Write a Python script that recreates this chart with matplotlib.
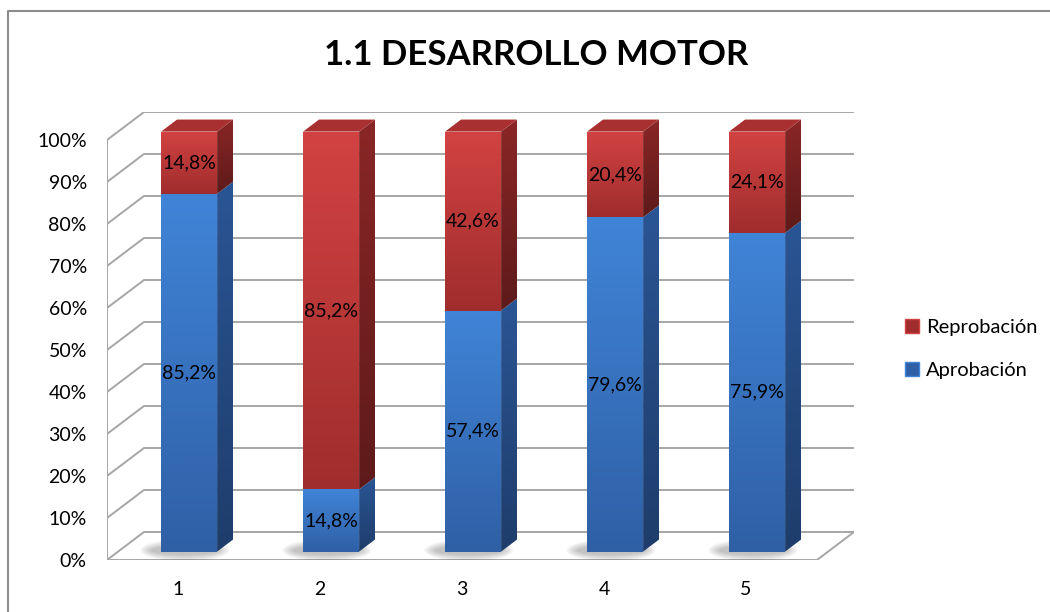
import numpy as np
import matplotlib.pyplot as plt
from matplotlib.patches import Polygon, Ellipse, Patch
from matplotlib.lines import Line2D
from matplotlib.colors import LinearSegmentedColormap

categorias = [1, 2, 3, 4, 5]
aprobacion = [85.2, 14.8, 57.4, 79.6, 75.9]
reprobacion = [14.8, 85.2, 42.6, 20.4, 24.1]
ticks_y = list(range(0, 101, 10))
titulo = "1.1 DESARROLLO MOTOR"

plt.rcParams['font.family'] = ['Lato', 'DejaVu Sans']

W, H = 1050, 612
fig = plt.figure(figsize=(W / 100, H / 100), dpi=100)
fig.patch.set_facecolor('white')

# borde exterior del grafico (solo izquierda y arriba quedan dentro)
fig.add_artist(Line2D([8 / W, 8 / W, 1.01], [-0.01, 1 - 11 / H, 1 - 11 / H],
                      transform=fig.transFigure, color='#8C8C8C', lw=1.5))

fig.text(536 / W, 1 - 65 / H, titulo, ha='center', va='baseline',
         fontsize=25, fontweight='bold')

# ejes: plano frontal en unidades de categoria / porcentaje
px_x, px_y = 142.0, 4.2
ax = fig.add_axes([107 / W, 52 / H, 747 / W, 448 / H])
xlim = (0.5, 0.5 + 747 / px_x)
ylim = (0, 448 / px_y)
DX, DY = 37 / px_x, 28 / px_y     # profundidad del cubo
f0, f1 = 0.30, 0.73               # profundidad de las barras
ancho = 28 / px_x

gris = '#A6A6A6'
for v in ticks_y:
    ax.plot([0.5, 0.5 + DX, 5.5 + DX], [v, v + DY, v + DY], color=gris, lw=1.4, zorder=1)
ax.plot([0.5, 0.5], [0, 100], color=gris, lw=1.4, zorder=1)
ax.plot([0.5, 5.5, 5.5 + DX], [0, 0, DY], color=gris, lw=1.4, zorder=1)


def relleno(verts, c_top, c_bot, z):
    poly = Polygon(verts, closed=True, facecolor='none', edgecolor='none', zorder=z)
    ax.add_patch(poly)
    xs = [p[0] for p in verts]
    ys = [p[1] for p in verts]
    cmap = LinearSegmentedColormap.from_list('g', [c_bot, c_top])
    im = ax.imshow(np.linspace(0, 1, 64).reshape(-1, 1), cmap=cmap,
                   extent=[min(xs), max(xs), min(ys), max(ys)], origin='lower',
                   aspect='auto', zorder=z, interpolation='bilinear')
    im.set_clip_path(poly)


def barra(xc, base, alto, colores, z, tapa=None):
    x0 = xc - ancho + f0 * DX
    x1 = xc + ancho + f0 * DX
    ddx, ddy = (f1 - f0) * DX, (f1 - f0) * DY
    b = base + f0 * DY
    t = base + alto + f0 * DY
    relleno([(x0, b), (x1, b), (x1, t), (x0, t)], colores[0], colores[1], z)
    relleno([(x1, b), (x1 + ddx, b + ddy), (x1 + ddx, t + ddy), (x1, t)],
            colores[2], colores[3], z)
    if tapa:
        ax.add_patch(Polygon([(x0, t), (x1, t), (x1 + ddx, t + ddy), (x0 + ddx, t + ddy)],
                             closed=True, facecolor=tapa, edgecolor='none', zorder=z))


azul = ('#4084D7', '#2F60A6', '#2A5594', '#1E3D6B')
rojo = ('#D24242', '#A02D2D', '#8A2626', '#5E1A1A')

for i, (a, r) in enumerate(zip(aprobacion, reprobacion)):
    xc = categorias[i]
    # sombra sobre el piso
    for k in range(6):
        ax.add_patch(Ellipse((xc + f0 * DX - 0.03, f0 * DY + 0.3),
                             2 * ancho + 0.08 + k * 0.03, 2.2 + k * 0.6,
                             facecolor='#404040', edgecolor='none', alpha=0.06, zorder=2))
    barra(xc, 0, a, azul, 3 + i)
    barra(xc, a, r, rojo, 3 + i, tapa='#A83030')
    ax.text(xc + f0 * DX, a / 2 + f0 * DY, f"{a:.1f}%".replace('.', ','),
            ha='center', va='center', fontsize=14, zorder=20)
    ax.text(xc + f0 * DX, a + r / 2 + f0 * DY, f"{r:.1f}%".replace('.', ','),
            ha='center', va='center', fontsize=14, zorder=20)

ax.set_xlim(*xlim)
ax.set_ylim(*ylim)
ax.set_xticks(categorias)
ax.set_xticklabels([str(c) for c in categorias])
ax.set_yticks(ticks_y)
ax.set_yticklabels([f"{v}%" for v in ticks_y])
ax.tick_params(length=0, labelsize=14)
ax.tick_params(axis='y', pad=14.5)
ax.tick_params(axis='x', pad=15)
for s in ax.spines.values():
    s.set_visible(False)
ax.set_facecolor('none')

handles = [Patch(facecolor=rojo[1], edgecolor=rojo[0]),
           Patch(facecolor=azul[1], edgecolor=azul[0])]
fig.legend(handles, ['Reprobación', 'Aprobación'], loc='center left',
           bbox_to_anchor=(895 / W, 1 - 349 / H), frameon=False, fontsize=14.5,
           handlelength=0.7, handleheight=0.7, handletextpad=0.35,
           labelspacing=1.3, borderpad=0)

fig.savefig('out.png', dpi=100)
